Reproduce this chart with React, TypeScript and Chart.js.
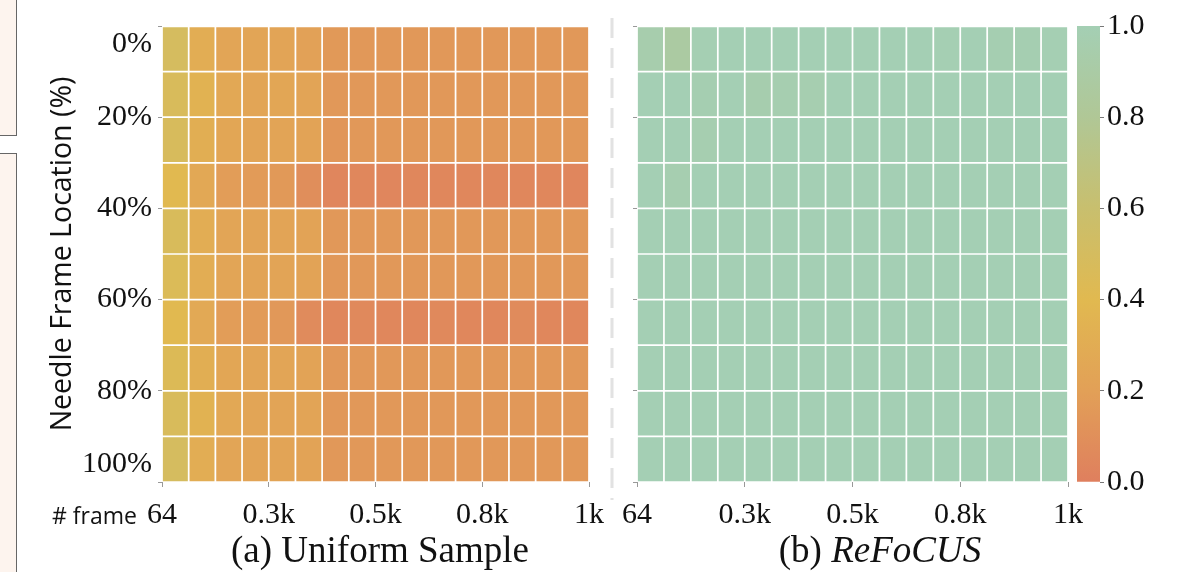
import React, { useEffect, useRef } from "react";
import { Chart, registerables } from "chart.js";

Chart.register(...registerables);

// ---------- data ----------
const FRAME_TICKS = ["64", "0.3k", "0.5k", "0.8k", "1k"];
const LOCATION_TICKS = [0, 20, 40, 60, 80, 100];
const COLORBAR_TICKS = [0, 0.2, 0.4, 0.6, 0.8, 1.0];
const N_COLS = 16;
const N_ROWS = 10;

// (a) Uniform Sample — rows top (0%) to bottom (100%), columns 64 → 1k
const uniformRow0 = [0.5, 0.3, 0.24, 0.24, 0.23, 0.21, 0.16, 0.15, 0.15, 0.15, 0.15, 0.15, 0.15, 0.15, 0.15, 0.15];
const uniformRow1 = [0.47, 0.34, 0.26, 0.24, 0.25, 0.23, 0.15, 0.15, 0.15, 0.15, 0.15, 0.15, 0.15, 0.15, 0.15, 0.15];
const uniformRow2 = [0.48, 0.31, 0.25, 0.23, 0.23, 0.22, 0.14, 0.15, 0.15, 0.15, 0.15, 0.15, 0.15, 0.15, 0.15, 0.15];
const uniformRow3 = [0.4, 0.26, 0.18, 0.17, 0.16, 0.09, 0.04, 0.05, 0.04, 0.05, 0.05, 0.05, 0.05, 0.05, 0.05, 0.04];
const uniformRow4 = [0.47, 0.3, 0.24, 0.23, 0.23, 0.22, 0.15, 0.15, 0.15, 0.15, 0.15, 0.15, 0.15, 0.15, 0.15, 0.15];
const uniformRow5 = [0.45, 0.3, 0.24, 0.23, 0.23, 0.22, 0.15, 0.15, 0.15, 0.15, 0.15, 0.15, 0.15, 0.15, 0.15, 0.15];
const uniformRow6 = [0.4, 0.27, 0.18, 0.17, 0.15, 0.07, 0.05, 0.06, 0.05, 0.05, 0.06, 0.05, 0.05, 0.07, 0.05, 0.05];
const uniformRow7 = [0.44, 0.31, 0.25, 0.24, 0.24, 0.22, 0.15, 0.15, 0.15, 0.15, 0.15, 0.15, 0.15, 0.15, 0.15, 0.15];
const uniformRow8 = [0.47, 0.34, 0.26, 0.24, 0.23, 0.23, 0.15, 0.15, 0.15, 0.15, 0.15, 0.15, 0.15, 0.15, 0.15, 0.15];
const uniformRow9 = [0.5, 0.3, 0.24, 0.23, 0.23, 0.22, 0.15, 0.15, 0.15, 0.15, 0.15, 0.15, 0.15, 0.15, 0.15, 0.15];
const UNIFORM = [uniformRow0, uniformRow1, uniformRow2, uniformRow3, uniformRow4, uniformRow5, uniformRow6, uniformRow7, uniformRow8, uniformRow9];

// (b) ReFoCUS
const refocusRow0 = [0.95, 0.88, 0.99, 1, 1, 1, 1, 1, 1, 1, 1, 0.99, 1, 0.98, 0.98, 0.99];
const refocusRow1 = [1, 1, 0.98, 1, 0.96, 0.97, 0.97, 1, 1, 1, 1, 1, 1, 1, 1, 1];
const refocusRow2 = [1, 1, 0.97, 1, 1, 1, 1, 1, 1, 1, 1, 1, 1, 1, 1, 1];
const refocusRow3 = [1, 0.97, 1, 1, 1, 1, 1, 1, 1, 1, 1, 1, 1, 1, 1, 1];
const refocusRow4 = [1, 1, 1, 1, 1, 1, 1, 1, 1, 1, 1, 1, 1, 1, 1, 1];
const refocusRow5 = [1, 1, 1, 1, 1, 1, 1, 1, 1, 1, 1, 1, 1, 1, 1, 1];
const refocusRow6 = [1, 1, 1, 1, 1, 1, 1, 1, 1, 1, 1, 1, 1, 1, 1, 1];
const refocusRow7 = [1, 1, 1, 1, 1, 1, 1, 1, 1, 1, 1, 1, 1, 1, 1, 1];
const refocusRow8 = [1, 1, 1, 1, 1, 1, 1, 1, 1, 1, 1, 1, 1, 1, 1, 1];
const refocusRow9 = [1, 1, 1, 1, 1, 1, 1, 1, 1, 1, 1, 1, 1, 1, 1, 1];
const REFOCUS = [refocusRow0, refocusRow1, refocusRow2, refocusRow3, refocusRow4, refocusRow5, refocusRow6, refocusRow7, refocusRow8, refocusRow9];

// ---------- colour map ----------
const CMAP_POS = [0, 0.2, 0.4, 0.6, 0.8, 1.0];
const CMAP_HEX = ["#df7f5e", "#e2a057", "#e1b950", "#c8bf6e", "#b0c796", "#a4cfb4"];

function hexToRgb(h: string) {
  const n = parseInt(h.slice(1), 16);
  return [(n >> 16) & 255, (n >> 8) & 255, n & 255];
}
function cmap(v: number) {
  const t = Math.max(0, Math.min(1, v));
  for (let i = 0; i < CMAP_POS.length - 1; i++) {
    if (t <= CMAP_POS[i + 1]) {
      const f = (t - CMAP_POS[i]) / (CMAP_POS[i + 1] - CMAP_POS[i]);
      const a = hexToRgb(CMAP_HEX[i]);
      const b = hexToRgb(CMAP_HEX[i + 1]);
      const c = a.map((x, k) => Math.round(x + (b[k] - x) * f));
      return `rgb(${c[0]},${c[1]},${c[2]})`;
    }
  }
  return CMAP_HEX[CMAP_HEX.length - 1];
}

const SERIF = "'Liberation Serif', 'Times New Roman', serif";
const SANS = "'Open Sans', 'Noto Sans', sans-serif";

function heatmapConfig(matrix: number[][], opts: { yWidth: number; padLeft: number; padRight: number; showYLabels: boolean; yTitle?: string }) {
  const rowSpan = 100 / N_ROWS;
  return {
    type: "bar",
    data: {
      datasets: matrix.map((row, r) => ({
        label: `row ${r}`,
        data: row.map((v, c) => ({ x: c + 0.5, y: rowSpan })),
        backgroundColor: row.map((v) => cmap(v)),
        borderColor: "#ffffff",
        borderWidth: 1.2,
        borderSkipped: false,
        barPercentage: 1,
        categoryPercentage: 1,
        stack: "s",
      })),
    },
    options: {
      animation: false,
      responsive: false,
      layout: { padding: { top: 26, right: opts.padRight, left: opts.padLeft, bottom: 0 } },
      plugins: { legend: { display: false }, tooltip: { enabled: false } },
      scales: {
        x: {
          type: "linear",
          min: 0,
          max: N_COLS,
          stacked: true,
          offset: false,
          grid: { display: true, offset: false, drawOnChartArea: false, drawTicks: true, tickLength: 5, color: "#999" },
          border: { display: false },
          afterBuildTicks: (scale: any) => {
            scale.ticks = FRAME_TICKS.map((_, i) => ({ value: (i * N_COLS) / (FRAME_TICKS.length - 1) }));
          },
          ticks: {
            autoSkip: false,
            maxRotation: 0,
            padding: 10,
            color: "#111",
            font: { family: SERIF, size: 30 },
            callback: (v: number) => FRAME_TICKS[Math.round((v * (FRAME_TICKS.length - 1)) / N_COLS)],
          },
          afterFit: (scale: any) => {
            scale.height = 90;
            scale.paddingLeft = 0;
            scale.paddingRight = 0;
          },
        },
        y: {
          type: "linear",
          min: 0,
          max: 100,
          reverse: true,
          stacked: true,
          grid: { display: true, drawOnChartArea: false, drawTicks: true, tickLength: 4, color: "#999" },
          border: { display: false },
          afterBuildTicks: (scale: any) => {
            scale.ticks = LOCATION_TICKS.map((v) => ({ value: v }));
          },
          ticks: {
            display: opts.showYLabels,
            autoSkip: false,
            padding: 6,
            color: "#111",
            font: { family: SERIF, size: 30 },
            callback: (v: number) => {
              if (v === 0) return ["", `${v}%`];
              if (v === 100) return [`${v}%`, ""];
              return `${v}%`;
            },
          },
          title: opts.yTitle
            ? {
                display: true,
                text: opts.yTitle,
                color: "#111",
                font: { family: SANS, size: 28.5 },
                padding: { top: 46, bottom: 0 },
              }
            : { display: false },
          afterFit: (scale: any) => {
            scale.width = opts.yWidth;
            scale.paddingTop = 0;
            scale.paddingBottom = 0;
          },
        },
      },
    },
  } as any;
}

function colorbarConfig() {
  return {
    type: "bar",
    data: {
      labels: ["score"],
      datasets: [
        {
          data: [1],
          backgroundColor: (ctx: any) => {
            const { chart } = ctx;
            const area = chart.chartArea;
            if (!area) return CMAP_HEX[0];
            const g = chart.ctx.createLinearGradient(0, area.bottom, 0, area.top);
            CMAP_POS.forEach((p, i) => g.addColorStop(p, CMAP_HEX[i]));
            return g;
          },
          borderWidth: 0,
          barPercentage: 1,
          categoryPercentage: 1,
        },
      ],
    },
    options: {
      animation: false,
      responsive: false,
      layout: { padding: { top: 26, right: 0, left: 17, bottom: 90 } },
      plugins: { legend: { display: false }, tooltip: { enabled: false } },
      scales: {
        x: { display: false },
        y: {
          position: "right",
          min: 0,
          max: 1,
          grid: { display: true, drawOnChartArea: false, drawTicks: true, tickLength: 4, color: "#777" },
          border: { display: false },
          afterBuildTicks: (scale: any) => {
            scale.ticks = COLORBAR_TICKS.map((v) => ({ value: v }));
          },
          ticks: {
            padding: 3,
            color: "#111",
            font: { family: SERIF, size: 30 },
            callback: (v: number) => v.toFixed(1),
          },
          afterFit: (scale: any) => {
            scale.width = 83;
            scale.paddingTop = 0;
            scale.paddingBottom = 0;
          },
        },
      },
    },
  } as any;
}

export default function App() {
  const leftRef = useRef<HTMLCanvasElement>(null);
  const rightRef = useRef<HTMLCanvasElement>(null);
  const cbRef = useRef<HTMLCanvasElement>(null);

  useEffect(() => {
    const charts: Chart[] = [];
    if (leftRef.current)
      charts.push(
        new Chart(leftRef.current, heatmapConfig(UNIFORM, { yWidth: 162, padLeft: 0, padRight: 21, showYLabels: true, yTitle: "Needle Frame Location (%)" }))
      );
    if (rightRef.current)
      charts.push(new Chart(rightRef.current, heatmapConfig(REFOCUS, { yWidth: 37, padLeft: 0, padRight: 32, showYLabels: false })));
    if (cbRef.current) charts.push(new Chart(cbRef.current, colorbarConfig()));
    return () => charts.forEach((c) => c.destroy());
  }, []);

  return (
    <div style={{ position: "absolute", left: 0, top: 0, width: 1183, height: 572, background: "#fff", overflow: "hidden" }}>
      <div style={{ position: "absolute", left: -2, top: -2, width: 17, height: 136, border: "1.5px solid #666", background: "#fdf4ee" }} />
      <div style={{ position: "absolute", left: -2, top: 153, width: 17, height: 440, border: "1.5px solid #666", background: "#fdf4ee" }} />
      <svg width={1183} height={572} style={{ position: "absolute", left: 0, top: 0 }}>
        <line x1={612} y1={18} x2={612} y2={500} stroke="#e2e2e2" strokeWidth={3} strokeDasharray="20 10" />
      </svg>
      <canvas ref={leftRef} width={610} height={572} style={{ position: "absolute", left: 0, top: 0 }} />
      <canvas ref={rightRef} width={500} height={572} style={{ position: "absolute", left: 600, top: 0 }} />
      <canvas ref={cbRef} width={123} height={572} style={{ position: "absolute", left: 1060, top: 0 }} />
      <div style={{ position: "absolute", left: 52, top: 500, fontFamily: SANS, fontSize: 23, color: "#111", lineHeight: "30px" }}># frame</div>
      <div style={{ position: "absolute", left: 180, width: 400, top: 528, textAlign: "center", fontFamily: SERIF, fontSize: 37, color: "#111", lineHeight: "44px" }}>
        (a) Uniform Sample
      </div>
      <div style={{ position: "absolute", left: 680, width: 400, top: 528, textAlign: "center", fontFamily: SERIF, fontSize: 37, color: "#111", lineHeight: "44px" }}>
        (b) <i>ReFoCUS</i>
      </div>
    </div>
  );
}
